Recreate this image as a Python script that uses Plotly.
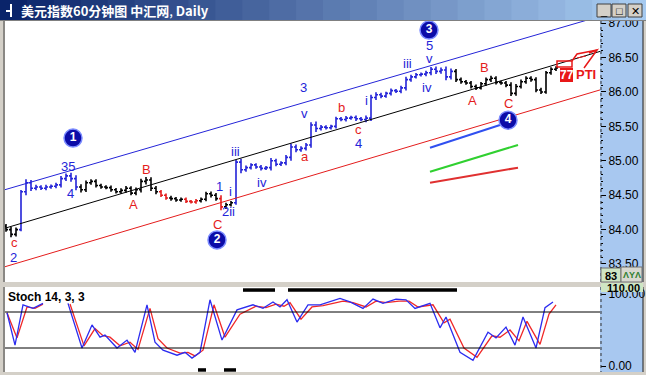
import plotly.graph_objects as go

# ---------------- data ----------------
bar_index = list(range(111))
close = [84.00, 83.93, 84.00, 84.55, 84.68, 84.60, 84.62, 84.60, 84.62, 84.63,
         84.65, 84.74, 84.78, 84.74, 84.62, 84.58, 84.68, 84.70, 84.64, 84.62,
         84.61, 84.58, 84.55, 84.57, 84.60, 84.53, 84.58, 84.70, 84.72, 84.60,
         84.55, 84.50, 84.46, 84.45, 84.43, 84.44, 84.41, 84.40, 84.42, 84.44,
         84.52, 84.50, 84.45, 84.33, 84.36, 84.39, 84.98, 84.87, 84.90, 84.94,
         84.91, 84.89, 84.90, 85.00, 84.95, 84.97, 85.05, 85.20, 85.16, 85.18,
         85.23, 85.52, 85.47, 85.49, 85.48, 85.50, 85.61, 85.60, 85.62, 85.63,
         85.61, 85.60, 85.62, 85.92, 85.96, 85.94, 85.98, 86.02, 86.01, 86.06,
         86.18, 86.22, 86.25, 86.26, 86.28, 86.33, 86.30, 86.32, 86.22, 86.30,
         86.18, 86.15, 86.13, 86.08, 86.06, 86.12, 86.18, 86.20, 86.14, 86.13,
         86.10, 85.98, 86.08, 86.15, 86.20, 86.18, 86.03, 86.00, 86.28, 86.33,
         86.35]
first_open = 84.05
# extra high-low extent of each bar beyond its open/close body (price units)
bar_range = [0.06, 0.08, 0.06,
             0.05, 0.10, 0.08, 0.06, 0.05, 0.06, 0.05, 0.06, 0.08, 0.07, 0.09, 0.10,
             0.08, 0.07, 0.06, 0.06, 0.05, 0.05, 0.06, 0.05, 0.06, 0.07, 0.06, 0.06,
             0.08, 0.09, 0.08, 0.07,
             0.05, 0.05, 0.06, 0.05, 0.05, 0.05, 0.04, 0.05, 0.05, 0.06, 0.07, 0.06,
             0.10, 0.06, 0.05,
             0.06, 0.10, 0.06, 0.05, 0.05, 0.06, 0.05, 0.08, 0.06, 0.05, 0.07, 0.10,
             0.07, 0.06, 0.06,
             0.08, 0.10, 0.06, 0.05, 0.05, 0.06, 0.05, 0.06, 0.05, 0.06, 0.05, 0.08,
             0.08, 0.07, 0.06,
             0.05, 0.06, 0.05, 0.06, 0.08, 0.06, 0.05, 0.05, 0.06, 0.07, 0.08, 0.07,
             0.10, 0.08, 0.07,
             0.06, 0.05, 0.06, 0.06, 0.05, 0.06, 0.07, 0.06, 0.05, 0.06, 0.08, 0.07,
             0.06, 0.06, 0.06, 0.07, 0.06, 0.05, 0.06, 0.05]

# channel lines (bar index, price)
channel_x = [-0.2, 118.8]
channel_upper = [84.58, 87.10]
channel_mid = [84.02, 86.59]
channel_lower = [83.46, 86.03]

# short indicator lines
ind_blue_x = [84.8, 98.8]; ind_blue_y = [85.19, 85.52]
ind_green_x = [84.8, 102.4]; ind_green_y = [84.84, 85.23]
ind_red_x = [84.8, 102.4]; ind_red_y = [84.68, 84.90]

# stochastic %K and %D
k_x = [0.2, 1.8, 3.4, 5.4, 7.4, None,
       12.4, 15.2, 17.2, 18.8, 19.8, 22.2, 24.2, 25.8, 28.2, 29.8, 31.4, 34.2, 35.8, 37.2,
       38.8, 40.8, 43.2, 46.2, 49.4, 51.4, 53.4, 54.8, 56.2, 58.2, 60.4, 62.8, 66.8, 68.8,
       71.4, 73.4, 75.4, 78, 80, 81.8, 84.8, 86.8, 88, 90.8, 93.4, 96.4, 98, 100, 101.8,
       103.4, 106, 107.8, 109.4]
k_val = [74, 29, 85, 80, 87, None,
         87, 25, 57, 40, 43, 25, 36, 19, 85, 33, 22, 15, 19, 11,
         19, 92, 36, 78, 85, 80, 89, 82, 92, 61, 85, 85, 94, 89,
         80, 93, 87, 93, 92, 80, 87, 53, 68, 19, 8, 47, 39, 54, 29,
         68, 25, 81, 89]
d_x = [0.2, 2.2, 4.2, 5.8, 7.4, None,
       12.8, 15.6, 17.8, 19.4, 20.8, 22.8, 24.8, 26.4, 28.8, 30.4, 32.2, 34.8, 36.4, 37.8,
       39.4, 41.6, 43.8, 46.8, 50, 52, 54, 55.6, 56.8, 59, 61.2, 63.4, 67.4, 69.4,
       72, 74, 76, 78.6, 80.6, 82.4, 85.4, 87.6, 88.8, 91.6, 94.2, 97.2, 98.8, 100.8, 102.6,
       104.2, 106.8, 108.6, 110]
d_val = [74, 39, 82, 80, 86, None,
         86, 28, 52, 42, 40, 28, 33, 23, 80, 38, 25, 18, 19, 14,
         22, 85, 40, 72, 83, 81, 86, 83, 88, 65, 82, 84, 90, 88,
         82, 90, 88, 90, 90, 82, 85, 60, 65, 25, 12, 42, 40, 50, 35,
         62, 30, 72, 85]
stoch_levels = [75, 25]
overbought_spans = [(47.4, 53.8), (56.4, 90.2)]
oversold_spans = [(38.4, 40.0), (43.6, 46.0)]

# price axis ticks
price_ticks = [83.5, 84.0, 84.5, 85.0, 85.5, 86.0, 86.5, 87.0]

# wave circles
circle_text = ["1", "2", "3", "4"]
circle_x = [13.4, 42.2, 84.6, 100.4]
circle_y = [85.33, 83.85, 86.90, 85.59]

# wave labels: text, bar index, price, colour key
wave_labels = [
    ("c", 1.6, 83.81, "r"), ("2", 1.4, 83.60, "b"),
    ("35", 12.4, 84.92, "b"), ("4", 12.8, 84.52, "b"),
    ("A", 25.4, 84.36, "r"), ("B", 28.0, 84.87, "r"),
    ("1", 42.6, 84.62, "b"), ("i", 44.8, 84.55, "b"), ("2ii", 44.4, 84.27, "b"),
    ("C", 42.2, 84.08, "r"),
    ("iii", 45.8, 85.14, "b"), ("iv", 51.2, 84.69, "b"),
    ("3", 59.4, 86.07, "b"), ("v", 59.6, 85.69, "b"), ("a", 59.8, 85.06, "r"),
    ("b", 67.0, 85.78, "r"), ("c", 70.4, 85.46, "r"), ("4", 70.4, 85.25, "b"),
    ("i", 72.0, 85.88, "b"),
    ("iii", 80.2, 86.41, "b"), ("5", 84.6, 86.68, "b"), ("v", 84.6, 86.48, "b"),
    ("iv", 84.2, 86.06, "b"),
    ("A", 93.2, 85.88, "r"), ("B", 95.6, 86.36, "r"), ("C", 100.4, 85.84, "r"),
]

# ---------------- styles ----------------
BLUE = "#2424d8"
RED = "#e41c1c"
BLACK = "#000000"
W, H = 646, 375
FONT = "Liberation Sans"


def seg_color(i):
    if 3 <= i <= 14 or 46 <= i <= 89:
        return BLUE
    if i in (31, 32, 36, 37, 38, 43):
        return RED
    return BLACK


def px(x):
    return x / W


def py(y):
    return 1 - y / H


opens = [first_open] + close[:-1]
highs = [max(o, c) + r / 2 for o, c, r in zip(opens, close, bar_range)]
lows = [min(o, c) - r / 2 for o, c, r in zip(opens, close, bar_range)]

fig = go.Figure()

# channel lines
for ys, lc in ((channel_upper, BLUE), (channel_mid, BLACK), (channel_lower, RED)):
    fig.add_trace(go.Scatter(x=channel_x, y=ys, mode="lines",
                             line=dict(color=lc, width=1), hoverinfo="skip"))

# short indicator lines
for xs, ys, lc in ((ind_blue_x, ind_blue_y, "#3050f0"),
                   (ind_green_x, ind_green_y, "#30d030"),
                   (ind_red_x, ind_red_y, "#e03030")):
    fig.add_trace(go.Scatter(x=xs, y=ys, mode="lines",
                             line=dict(color=lc, width=2), hoverinfo="skip"))

# price bars by colour
for bc in (BLACK, BLUE, RED):
    sel = [i for i in bar_index if seg_color(i) == bc]
    fig.add_trace(go.Ohlc(
        x=[bar_index[i] for i in sel],
        open=[opens[i] for i in sel], high=[highs[i] for i in sel],
        low=[lows[i] for i in sel], close=[close[i] for i in sel],
        increasing=dict(line=dict(color=bc, width=1.6)),
        decreasing=dict(line=dict(color=bc, width=1.6)),
        tickwidth=0.4, hoverinfo="skip"))

# wave circles
fig.add_trace(go.Scatter(
    x=circle_x, y=circle_y, mode="markers+text", text=circle_text,
    textposition="middle center",
    textfont=dict(color="white", size=12, family=FONT, weight="bold"),
    marker=dict(size=18, color="#0c0ca8", line=dict(color="#7c8cff", width=1.5)),
    hoverinfo="skip"))

# stochastic
fig.add_trace(go.Scatter(x=d_x, y=d_val, yaxis="y2", mode="lines",
                         line=dict(color="#f02828", width=1.3), connectgaps=False,
                         hoverinfo="skip"))
fig.add_trace(go.Scatter(x=k_x, y=k_val, yaxis="y2", mode="lines",
                         line=dict(color="#2c2cf0", width=1.3), connectgaps=False,
                         hoverinfo="skip"))

shapes = []
annotations = []


def prect(x0, y0, x1, y1, fill, line=None, layer="above"):
    shapes.append(dict(type="rect", xref="paper", yref="paper", x0=px(x0), x1=px(x1),
                       y0=py(y1), y1=py(y0), fillcolor=fill,
                       line=line or dict(width=0), layer=layer))


def pline(x0, y0, x1, y1, color, width=1, dash="solid", layer="above"):
    shapes.append(dict(type="line", xref="paper", yref="paper", x0=px(x0), x1=px(x1),
                       y0=py(y0), y1=py(y1), line=dict(color=color, width=width, dash=dash),
                       layer=layer))


def ptext(x, y, text, size, color, xanchor="center", family=FONT):
    annotations.append(dict(x=px(x), y=py(y), xref="paper", yref="paper", text=text,
                            xanchor=xanchor, yanchor="middle", showarrow=False,
                            font=dict(size=size, color=color, family=family)))


# right axis panels
prect(600, 21, 643, 282, "#a8c8f0", layer="below")
prect(600, 287, 643, 372, "#a8c8f0", layer="below")
for y0, y1 in ((21, 282), (287, 372)):
    pline(601, y0, 601, y1, "#303030", 1, "dot")
    pline(643, y0, 643, y1, "#202020", 1)
    pline(4, y0, 4, y1, "#404040", 1)

# stoch level lines
for lv in stoch_levels:
    shapes.append(dict(type="line", xref="x domain", yref="y2", x0=0, x1=1, y0=lv, y1=lv,
                       line=dict(color="black", width=1)))
for a, b in overbought_spans:
    shapes.append(dict(type="line", xref="x", yref="y2", x0=a, x1=b, y0=105.5, y1=105.5,
                       line=dict(color="black", width=3.5)))
for a, b in oversold_spans:
    shapes.append(dict(type="line", xref="x", yref="y2", x0=a, x1=b, y0=-5.5, y1=-5.5,
                       line=dict(color="black", width=3.5)))

# PTI drawing
prect(560, 68, 573, 82, "#e81818")
shapes.append(dict(type="rect", xref="paper", yref="paper", x0=px(557), x1=px(572),
                   y0=py(67), y1=py(61), fillcolor="rgba(0,0,0,0)",
                   line=dict(color="#e81818", width=1.5)))
shapes.append(dict(type="path", xref="paper", yref="paper",
                   path=f"M {px(572)},{py(61)} L {px(577)},{py(54)} L {px(597)},{py(50)}",
                   line=dict(color="#e81818", width=1.5)))
shapes.append(dict(type="path", xref="paper", yref="paper",
                   path=f"M {px(584)},{py(68)} L {px(597)},{py(50)} L {px(589)},{py(53)}",
                   line=dict(color="#e81818", width=1.5)))
pline(577, 58, 586, 56, "#e81818", 1)

# boxes on axes
prect(601, 268, 621, 282, "#cfe6c4", dict(color="#707070", width=1))
prect(621, 267, 642, 282, "#d8d8d0", dict(color="#707070", width=1))
prect(601, 283, 643, 292, "#cfe6c4")

# title bar gradient
c0 = (10, 36, 106)
c1 = (166, 202, 240)
steps = 24
for s in range(steps):
    t = s / (steps - 1)
    rgb = [int(round(a + (b - a) * t)) for a, b in zip(c0, c1)]
    gc = "#%02x%02x%02x" % tuple(rgb)
    prect(W * s / steps, 0, min(W, W * (s + 1) / steps + 1), 20, gc)
pline(0, 20.5, W, 20.5, "#808080", 1)
# title icon
pline(11, 4, 11, 17, "white", 2)
pline(6, 11, 11, 11, "white", 2)
# window buttons
for bx, glyph in ((597, "_"), (612, "□"), (628, "✕")):
    prect(bx, 4, bx + 14, 17, "#d4d0c8", dict(color="#404040", width=1))
    ptext(bx + 7, 10.5, glyph, 11, "black")

ptext(19, 10.5, "<b>美元指数60分钟图 中汇网</b>, <b>Daily</b>", 13, "white", "left",
      "Noto Sans CJK SC")

# wave labels
for txt, xi, yi, ck in wave_labels:
    annotations.append(dict(x=xi, y=yi, xref="x", yref="y", text=txt, showarrow=False,
                            yanchor="middle",
                            font=dict(size=13, color=BLUE if ck == "b" else RED, family=FONT)))

ptext(566.5, 75, "<b>77</b>", 12, "white")
ptext(574, 75, "<b>PTI</b>", 13, "#e81818", "left")
ptext(6, 297, "<b>Stoch 14, 3, 3</b>", 12, "black", "left")
ptext(611, 275.5, "<b>83</b>", 11, "black")
ptext(631.5, 275, "<b>ΛYΛ</b>", 9, "#308030")
ptext(605, 287.5, "<b>110.00</b>", 11, "black", "left")

fig.update_layout(
    width=W, height=H, autosize=False, margin=dict(l=0, r=0, t=0, b=0, pad=0),
    paper_bgcolor="#d4d0c8", plot_bgcolor="white", showlegend=False,
    xaxis=dict(domain=[px(5), px(600)], range=[-0.2, 118.8], showticklabels=False,
               showgrid=False, zeroline=False, ticks="", rangeslider=dict(visible=False),
               fixedrange=True, automargin=False),
    yaxis=dict(domain=[py(282), py(21)], range=[83.238, 87.032], side="right", anchor="x",
               tickvals=price_ticks, ticktext=["%.2f" % v for v in price_ticks],
               ticks="outside", ticklen=5, tickcolor="black", showgrid=False, zeroline=False,
               minor=dict(ticks="outside", ticklen=2, dtick=0.1, tick0=0, tickcolor="black"),
               tickfont=dict(size=12, color="black", family=FONT), fixedrange=True,
               automargin=False),
    yaxis2=dict(domain=[py(372), py(287)], range=[-8.33, 109.72], side="right", anchor="x",
                tickvals=[0, 100], ticktext=["0.00", "100.00"],
                ticks="outside", ticklen=5, tickcolor="black", showgrid=False, zeroline=False,
                tickfont=dict(size=12, color="black", family=FONT), fixedrange=True,
                automargin=False),
    shapes=shapes, annotations=annotations,
)

fig.write_html("out.html", config=dict(displayModeBar=False),
               post_script="document.body.style.margin='0';document.body.style.background='#d4d0c8';")
